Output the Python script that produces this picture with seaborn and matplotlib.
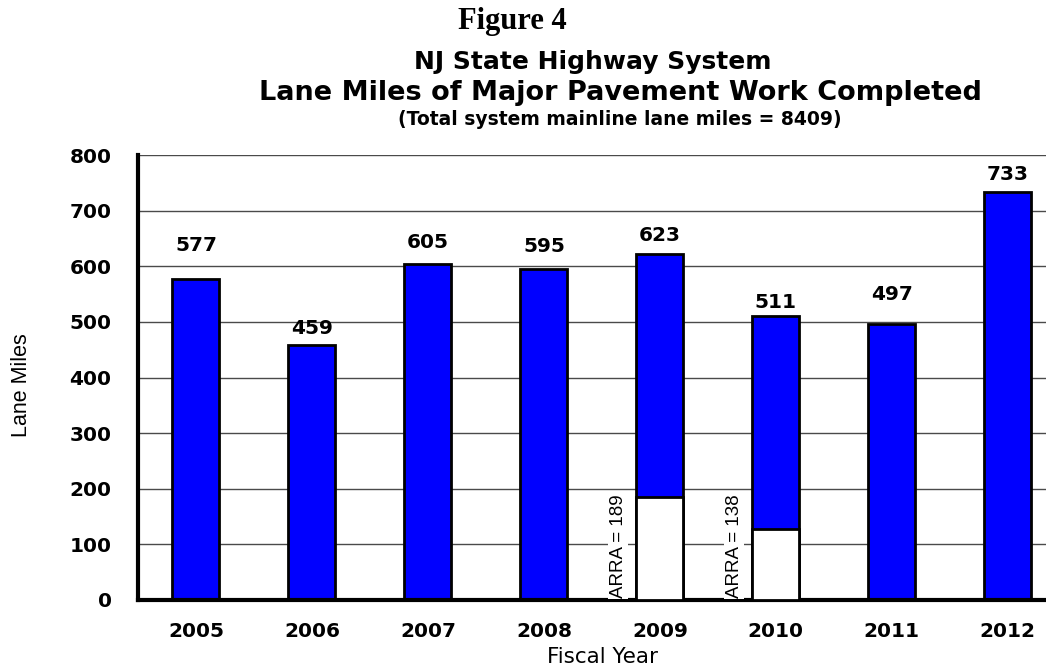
import matplotlib
matplotlib.use("Agg")
import matplotlib.pyplot as plt
import pandas as pd
import seaborn as sns
from matplotlib.ticker import FixedLocator

# data
years = ["2005", "2006", "2007", "2008", "2009", "2010", "2011", "2012"]
lane_miles = [577, 459, 605, 595, 623, 511, 497, 733]
arra_years = ["2009", "2010"]
arra_drawn = [185, 127]
arra_text = ["ARRA = 189", "ARRA = 138"]

# where the value labels sit (data units)
label_y = [638, 489, 642, 635, 655, 535, 550, 765]

sns.set_style("white")
plt.rcParams["font.family"] = ["DejaVu Sans"]
plt.rcParams["text.color"] = "black"
plt.rcParams["xtick.color"] = "black"
plt.rcParams["ytick.color"] = "black"

df = pd.DataFrame({"year": years, "miles": lane_miles})
df_arra = pd.DataFrame({"year": arra_years, "miles": arra_drawn})

fig = plt.figure(figsize=(10.46, 6.70), dpi=100)
ax = fig.add_axes([0.1319, 0.1045, 0.887, 0.664])

for y in range(100, 801, 100):
    ax.axhline(y, color="#4a4a4a", lw=1.0, zorder=0)

sns.barplot(data=df, x="year", y="miles", order=years, color="#0000FF",
            saturation=1, width=0.405, edgecolor="black", linewidth=2, ax=ax, zorder=2)
sns.barplot(data=df_arra, x="year", y="miles", order=years, color="white",
            saturation=1, width=0.405, edgecolor="black", linewidth=2, ax=ax, zorder=3)

for i, (v, ly) in enumerate(zip(lane_miles, label_y)):
    ax.text(i, ly, str(v), ha="center", va="center", fontsize=14.5, fontweight="bold")

for yr, t in zip(arra_years, arra_text):
    i = years.index(yr)
    ax.text(i - 0.36, 4, t, rotation=90, ha="center", va="bottom", fontsize=13.5,
            family=["Liberation Sans", "DejaVu Sans"],
            bbox=dict(facecolor="white", edgecolor="none", pad=1), zorder=4)

ax.set_xlim(-0.5, 7.5)
ax.set_ylim(0, 800)
ax.set_yticks(range(0, 801, 100))
ax.xaxis.set_minor_locator(FixedLocator([i - 0.5 for i in range(len(years) + 1)]))
ax.tick_params(axis="x", which="major", length=0, pad=16, labelsize=14.5)
ax.tick_params(axis="x", which="minor", length=7, width=2.5, direction="out")
ax.tick_params(axis="y", length=7, width=2.5, direction="out", pad=12, labelsize=14.5)
for lab in ax.get_xticklabels() + ax.get_yticklabels():
    lab.set_fontweight("bold")

for s in ["top", "right"]:
    ax.spines[s].set_visible(False)
for s in ["left", "bottom"]:
    ax.spines[s].set_linewidth(3)
    ax.spines[s].set_color("black")

ax.set_xlabel("")
ax.set_ylabel("")
fig.text(0.021, 0.425, "Lane Miles", rotation=90, ha="center", va="center", fontsize=15.5,
         family=["Liberation Sans", "DejaVu Sans"])
fig.text(0.576, 0.004, "Fiscal Year", ha="center", va="bottom", fontsize=15.5)

fig.text(0.49, 0.968, "Figure 4", ha="center", va="center", fontsize=22,
         fontweight="bold", family=["Liberation Serif", "DejaVu Serif"])
fig.text(0.567, 0.907, "NJ State Highway System", ha="center", va="center",
         fontsize=18, fontweight="bold")
fig.text(0.593, 0.861, "Lane Miles of Major Pavement Work Completed", ha="center",
         va="center", fontsize=19.5, fontweight="bold")
fig.text(0.593, 0.822, "(Total system mainline lane miles = 8409)", ha="center",
         va="center", fontsize=13.5, fontweight="bold")

fig.savefig("out.png", dpi=100)
